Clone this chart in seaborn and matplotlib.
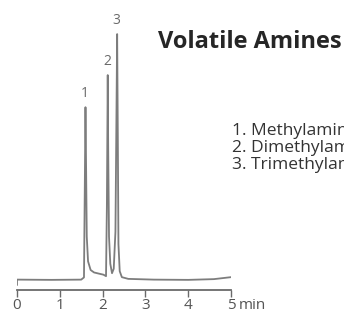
import matplotlib
matplotlib.use("Agg")
import matplotlib.pyplot as plt
import seaborn as sns
import pandas as pd

# chromatogram trace (time in min, signal in % of peak 3)
time_min = [0.00, 0.00, 0.03, 0.80, 1.50, 1.565, 1.585, 1.60, 1.615, 1.63,
            1.66, 1.72, 1.80, 1.92, 2.02, 2.08, 2.10, 2.115, 2.12, 2.13,
            2.15, 2.18, 2.22, 2.26, 2.30, 2.325, 2.34, 2.355, 2.37, 2.40,
            2.45, 2.60, 3.20, 4.00, 4.60, 4.85, 5.00]
signal = [-1.6, 0.6, 0.6, 0.5, 0.6, 1.5, 40.0, 70.4, 45.0, 18.0,
          8.0, 4.5, 3.5, 3.0, 2.6, 2.0, 30.0, 70.0, 83.4, 55.0,
          18.0, 7.0, 3.2, 5.0, 20.0, 70.0, 100.0, 60.0, 15.0, 4.0,
          1.6, 0.9, 0.6, 0.5, 0.8, 1.3, 1.6]

peak_names = ["Methylamine", "Dimethylamine", "Trimethylamine"]
peak_times = [1.60, 2.12, 2.34]
peak_heights = [70.4, 83.4, 100.0]
tick_values = [0, 1, 2, 3, 4, 5]
tick_labels = ["0", "1", "2", "3", "4", "5"]
title = "Volatile Amines"

sns.set_theme(style="white")
plt.rcParams["font.family"] = ["Open Sans", "DejaVu Sans"]

df = pd.DataFrame({"time": time_min, "signal": signal})

fig = plt.figure(figsize=(3.44, 3.18), dpi=100)
# baseline of the trace sits ~9 px above the ruler line
ax = fig.add_axes([17 / 344, 28 / 318, 214 / 344, 290 / 318])
sns.lineplot(data=df, x="time", y="signal", ax=ax, sort=False, estimator=None,
             color="#7d7d7d", linewidth=1.3)
ax.set_xlim(0, 5)
ax.set_ylim(-3.6, 113.8)
ax.set_xlabel("")
ax.set_ylabel("")
ax.set_yticks([])
ax.set_xticks(tick_values)
ax.set_xticklabels(tick_labels)
for side in ["top", "left", "right"]:
    ax.spines[side].set_visible(False)
ax.spines["bottom"].set_color("#6a6a6a")
ax.spines["bottom"].set_linewidth(1.3)
ax.tick_params(axis="x", direction="out", length=5, width=1.0, color="#6a6a6a",
               labelsize=11, labelcolor="#555555", pad=0.5, bottom=True)
ax.patch.set_alpha(0)

ax.text(5.17, -0.054, "min", transform=ax.get_xaxis_transform(), fontsize=11,
        color="#555555", ha="left", va="center")

for i, (t, h) in enumerate(zip(peak_times, peak_heights)):
    ax.text(t - 0.01, h + 2.5, str(i + 1), fontsize=10, color="#6a6a6a",
            ha="center", va="bottom")

fig.text(158 / 344, 1 - 42 / 318, title, fontsize=17, fontweight="bold",
         color="#262626", ha="left", va="center")
for i, name in enumerate(peak_names):
    fig.text(232 / 344, 1 - (131 + i * 17) / 318, f"{i + 1}. {name}",
             fontsize=12.5, color="#333333", ha="left", va="center")

fig.savefig("out.png", dpi=100)
